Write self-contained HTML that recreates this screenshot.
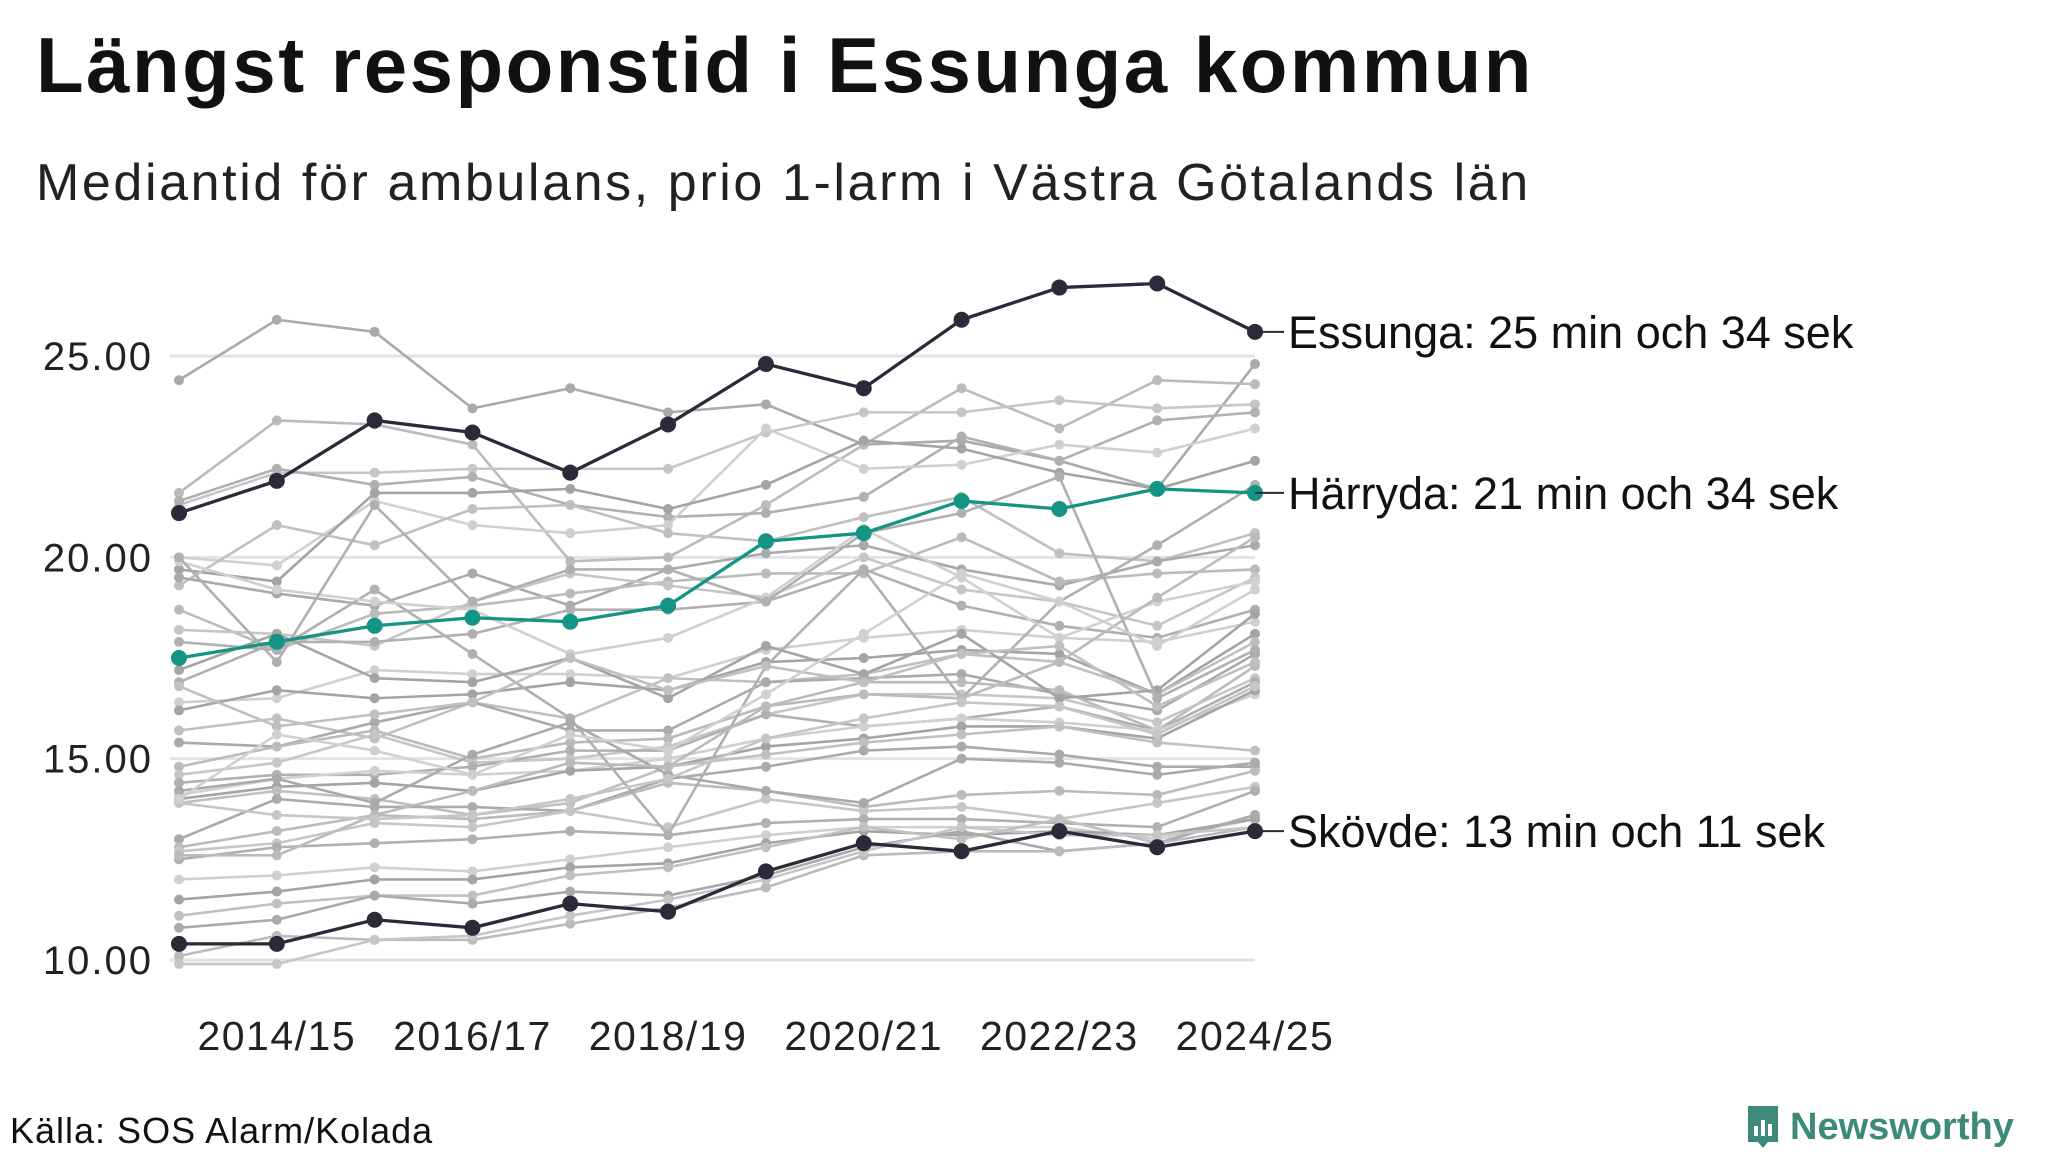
<!DOCTYPE html>
<html><head><meta charset="utf-8"><style>
html,body{margin:0;padding:0;background:#fff;}
svg{display:block;font-family:"Liberation Sans",sans-serif;}
</style></head><body>
<svg id="chart" width="2048" height="1152" viewBox="0 0 2048 1152" xmlns="http://www.w3.org/2000/svg">
<text x="36" y="92" font-size="78" font-weight="bold" letter-spacing="2.5" fill="#111">Längst responstid i Essunga kommun</text>
<text x="36" y="200" font-size="52" letter-spacing="2.6" fill="#222">Mediantid för ambulans, prio 1-larm i Västra Götalands län</text>
<g id="grid"></g><g id="yticks"></g><g id="xticks"></g><g id="gray"></g><g id="hl"></g><g id="labels"></g>
<text x="10" y="1143" font-size="36" letter-spacing="1" fill="#111">Källa: SOS Alarm/Kolada</text>
<g>
<path d="M1748 1106 h30 v36 h-10 l-5 6 l-5 -6 h-10 z" fill="#3d8a7a"/>
<rect x="1754" y="1126" width="4" height="10" fill="#fff"/><rect x="1761" y="1120" width="4" height="16" fill="#fff"/><rect x="1768" y="1124" width="4" height="12" fill="#fff"/>
<text x="1790" y="1139" font-size="38" font-weight="bold" fill="#3d8a7a">Newsworthy</text>
</g>
</svg>
<script>
const seasons=["2013/14","2014/15","2015/16","2016/17","2017/18","2018/19","2019/20","2020/21","2021/22","2022/23","2023/24","2024/25"];
const yTicks=[10,15,20,25];
const essunga=[21.1,21.9,23.4,23.1,22.1,23.3,24.8,24.2,25.9,26.7,26.8,25.6];
const harryda=[17.5,17.9,18.3,18.5,18.4,18.8,20.4,20.6,21.4,21.2,21.7,21.6];
const skovde=[10.4,10.4,11.0,10.8,11.4,11.2,12.2,12.9,12.7,13.2,12.8,13.2];
const others=[
[24.4,25.9,25.6,23.7,24.2,23.6,23.8,22.8,22.9,22.4,21.7,24.8],
[21.6,23.4,23.3,22.8,19.9,20.0,21.3,22.8,24.2,23.2,24.4,24.3],
[21.3,22.1,22.1,22.2,22.2,22.2,23.1,23.6,23.6,23.9,23.7,23.8],
[21.4,22.2,21.8,22.0,21.3,21.0,21.1,21.5,23.0,22.4,23.4,23.6],
[20.0,19.8,21.4,20.8,20.6,20.8,23.2,22.2,22.3,22.8,22.6,23.2],
[19.7,19.4,21.6,21.6,21.7,21.2,21.8,22.9,22.7,22.1,21.7,22.4],
[19.3,20.8,20.3,21.2,21.3,20.6,20.4,21.0,21.5,20.1,19.9,20.6],
[19.5,19.1,18.8,19.6,18.8,19.7,20.1,20.3,19.7,19.3,19.9,20.3],
[18.7,17.7,18.6,18.8,19.1,19.4,19.6,19.6,20.5,19.4,19.6,19.7],
[18.2,18.1,17.8,18.9,19.6,19.3,19.0,20.0,19.2,18.9,18.3,19.5],
[16.9,17.9,17.9,18.1,18.7,18.7,18.9,19.7,18.8,18.3,18.0,18.7],
[16.4,16.5,17.2,17.1,17.1,17.0,17.7,18.0,18.2,18.0,17.9,18.4],
[16.2,16.7,16.5,16.6,16.9,16.7,17.4,17.5,17.7,17.6,16.6,18.1],
[15.7,16.0,15.5,16.4,16.0,17.0,16.9,17.1,17.6,17.4,16.6,17.9],
[15.4,15.3,15.9,16.4,15.7,15.7,16.9,17.0,17.1,16.6,16.2,17.6],
[14.8,15.3,15.7,15.0,15.4,15.5,16.3,16.9,16.9,16.7,15.7,17.3],
[14.6,14.9,15.6,14.9,15.0,15.3,16.1,16.6,16.6,16.5,15.9,17.0],
[14.4,14.6,14.6,14.8,15.2,15.2,16.1,15.8,16.0,16.3,15.7,16.9],
[14.1,14.5,14.7,14.6,14.7,15.0,15.5,15.8,16.0,15.9,15.7,16.6],
[14.0,14.3,14.4,14.2,14.7,14.8,15.3,15.5,15.8,15.8,15.5,16.7],
[13.9,14.2,14.0,13.6,13.9,14.8,15.1,15.4,15.6,15.8,15.4,15.2],
[13.0,14.0,13.8,13.8,13.7,14.5,14.8,15.2,15.3,15.1,14.8,14.8],
[12.8,13.2,13.6,13.5,13.7,14.4,14.2,13.8,14.1,14.2,14.1,14.7],
[12.7,12.9,13.4,13.3,13.7,13.3,14.0,13.7,13.8,13.5,13.9,14.3],
[12.5,12.8,12.9,13.0,13.2,13.1,13.4,13.5,13.5,13.4,13.3,14.2],
[12.0,12.1,12.3,12.2,12.5,12.8,13.1,13.3,13.3,13.3,13.0,13.5],
[11.5,11.7,12.0,12.0,12.3,12.4,12.9,13.2,13.1,13.2,13.1,13.5],
[11.1,11.4,11.6,11.6,12.1,12.3,12.8,13.3,13.0,13.5,12.9,13.6],
[10.8,11.0,11.6,11.4,11.7,11.6,12.1,12.8,13.2,12.7,12.9,13.6],
[10.1,10.6,10.5,10.5,10.9,11.3,11.8,12.6,12.7,12.7,12.9,13.3],
[9.9,9.9,10.5,10.6,11.1,11.5,12.0,12.7,13.3,13.1,13.1,13.3],
[17.9,17.7,19.2,17.6,16.0,13.1,17.3,19.7,16.5,18.9,20.3,21.8],
[19.9,19.2,18.9,18.7,17.6,18.0,19.0,20.7,19.5,18.0,18.9,19.4],
[17.2,18.1,17.0,16.9,17.5,16.5,17.8,17.1,18.1,16.5,16.7,18.6],
[16.8,15.8,16.1,16.4,17.5,16.7,17.3,16.9,17.6,17.8,16.3,17.4],
[14.2,14.5,13.9,15.1,15.9,14.6,14.2,13.9,15.0,14.9,14.6,14.9],
[12.6,12.6,13.6,14.2,14.9,14.8,16.3,16.6,16.5,17.4,19.0,20.5],
[13.9,13.6,13.5,13.6,14.0,14.5,15.5,16.0,16.4,16.3,15.6,16.8],
[20.0,17.4,21.3,18.9,19.7,19.7,18.9,20.6,21.1,22.0,16.5,17.7],
[14.0,15.6,15.2,14.6,15.6,15.2,16.6,18.1,19.6,18.9,17.8,19.2]
];
const grays=["#aaa","#bbb","#c6c6c6","#b0b0b0","#d0d0d0","#a4a4a4","#c0c0c0"];
const NS="http://www.w3.org/2000/svg";
const x0=179,x1=1255,yTop=356,yBot=960,vTop=25,vBot=10;
function X(i){return x0+(x1-x0)*i/(seasons.length-1);}
function Y(v){return yBot-(v-vBot)*(yBot-yTop)/(vTop-vBot);}
function mk(tag,attrs,parent){const e=document.createElementNS(NS,tag);for(const k in attrs)e.setAttribute(k,attrs[k]);parent.appendChild(e);return e;}
const grid=document.getElementById('grid'),yt=document.getElementById('yticks'),xt=document.getElementById('xticks');
yTicks.forEach(v=>{
 const l=mk('line',{x1:170,x2:x1,y1:Y(v),y2:Y(v),stroke:'#e2e2ea','stroke-width':3},grid);
 
 
 const t=mk('text',{x:153,y:Y(v)+14,'text-anchor':'end','font-size':40,'letter-spacing':2,fill:'#222'},yt);
 
 
 t.textContent=v.toFixed(2);
});
seasons.forEach((s,i)=>{ if(i%2===1){
 const t=mk('text',{x:X(i),y:1050,'text-anchor':'middle','font-size':41,'letter-spacing':1.5,fill:'#222'},xt);
 
 
 t.textContent=s;}});
function series(vals,color,w,r,parent,name){
 const g=mk('g',{},parent);
 
 
 mk('polyline',{points:vals.map((v,i)=>X(i)+','+Y(v)).join(' '),fill:'none',stroke:color,'stroke-width':w},g);
 vals.forEach((v,i)=>{const c=mk('circle',{cx:X(i),cy:Y(v),r:r,fill:color},g);
  
  });
}
const gg=document.getElementById('gray');
others.forEach((s,k)=>series(s,grays[k%grays.length],2.6,5,gg,'municipality-line'));
const hl=document.getElementById('hl');
series(skovde,'#2b2a38',3.3,8,hl,'skovde-line');
series(essunga,'#2b2a38',3.3,8,hl,'essunga-line');
series(harryda,'#149484',3.3,8,hl,'harryda-line');
const lab=document.getElementById('labels');
[[essunga,'Essunga: 25 min och 34 sek'],[harryda,'Härryda: 21 min och 34 sek'],[skovde,'Skövde: 13 min och 11 sek']].forEach(([d,txt])=>{
 const y=Y(d[d.length-1]);
 mk('line',{x1:x1,x2:1284,y1:y,y2:y,stroke:'#2b2a38','stroke-width':2},lab);
 const t=mk('text',{x:1288,y:y+16,'font-size':45,fill:'#111'},lab);
 
 
 t.textContent=txt;
});
</script>
</body></html>
